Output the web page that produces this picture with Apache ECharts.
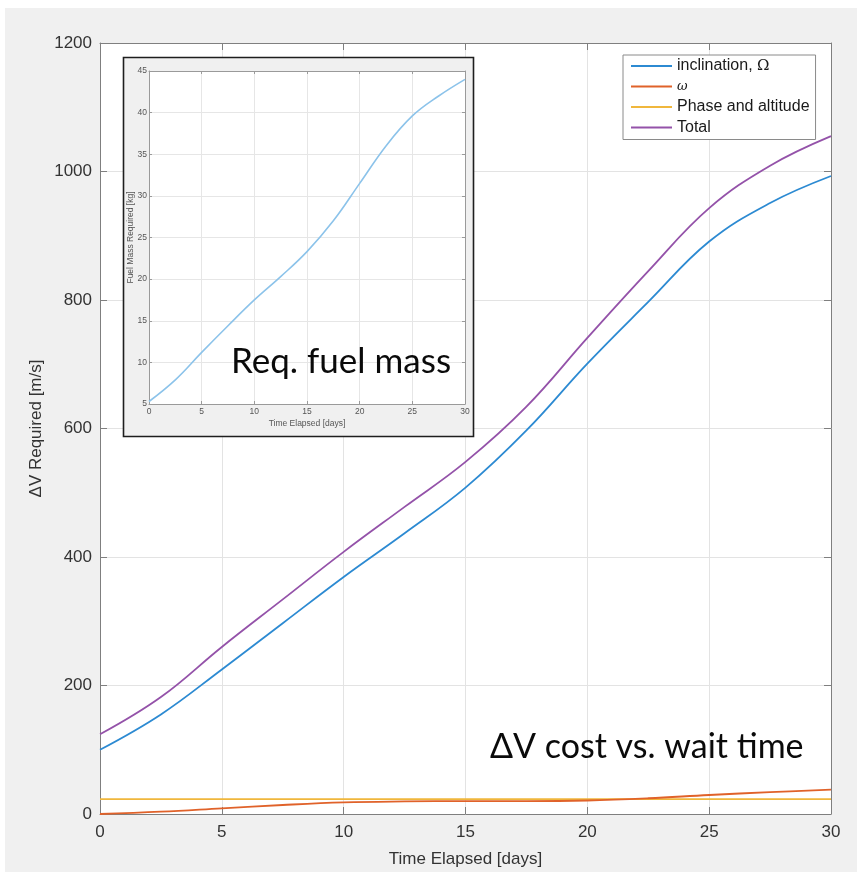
<!DOCTYPE html>
<html>
<head>
<meta charset="utf-8">
<script src="https://cdn.jsdelivr.net/npm/echarts@6/dist/echarts.min.js"></script>
<style>
  html, body { margin: 0; padding: 0; background: #ffffff; }
  #wrap { position: relative; width: 857px; height: 878px; overflow: hidden; }
  #figbg { position: absolute; left: 5px; top: 8px; width: 852px; height: 864px; background: #f0f0f0; }
  #chart { position: absolute; left: 0; top: 0; width: 857px; height: 878px; }
</style>
</head>
<body>
<div id="wrap">
  <div id="figbg"></div>
  <div id="chart"></div>
</div>
<script>
// Time after the reference epoch (days)
const days = [0, 2.5, 5, 7.5, 10, 12.5, 15, 17.5, 20, 22.5, 25, 27.5, 30];

// Delta-V components (m/s)
const inclination = [100, 155, 225, 297, 369, 437, 508, 597, 701, 797, 891, 951, 993];
const omega       = [0, 3.6, 8.8, 14, 18, 19.5, 20, 20, 21, 24.5, 29.6, 34, 38];
const phaseAlt    = [23, 23, 23, 23, 23, 23, 23, 23, 23, 23, 23, 23, 23];
const total       = [124, 182, 260, 334, 408, 478, 548, 634, 741, 845, 943, 1009, 1055];

// Propellant mass needed for the total manoeuvre (kg)
const fuelMass = [5.3, 7.9, 11.2, 14.4, 17.5, 20.3, 23.3, 27.0, 31.5, 36.0, 39.6, 42.0, 44.0];

// Axis ranges / ticks
const xTicks = { min: 0, max: 30, step: 5 };
const dvTicks = { min: 0, max: 1200, step: 200 };
const fuelTicks = { min: 5, max: 45, step: 5 };

const seriesNames = ['inclination, \u03A9', '\u03C9', 'Phase and altitude', 'Total'];

const pairs = (ys) => days.map((d, i) => [d, ys[i]]);
const plain = (v) => String(v);

const FONT = '"Liberation Sans", Arial, Helvetica, sans-serif';
const AX = '#7f7f7f';
const GRID = '#e3e3e3';
const INSET_AX = '#9a9a9a';

const chart = echarts.init(document.getElementById('chart'), null, { renderer: 'canvas' });

// tick-only axis used to close the plot box on the opposite side
function boxAxis(gridIndex, position, r, tickLen, z, color) {
  return {
    type: 'value', gridIndex, position,
    min: r.min, max: r.max, interval: r.step,
    z,
    axisLine: { show: true, onZero: false, lineStyle: { color, width: 1 } },
    axisTick: { show: true, inside: true, length: tickLen, lineStyle: { color } },
    axisLabel: { show: false },
    splitLine: { show: false }
  };
}

const lineBase = { type: 'line', showSymbol: false, smooth: 0.4, symbol: 'none' };

chart.setOption({
  animation: false,
  backgroundColor: 'transparent',
  textStyle: { fontFamily: FONT },
  grid: [
    { left: 100, top: 43, width: 731, height: 771, show: true, backgroundColor: '#ffffff', borderWidth: 0, z: 0 },
    { left: 149, top: 71, width: 316, height: 333, show: true, backgroundColor: '#ffffff', borderWidth: 0, z: 11 }
  ],
  graphic: [
    // inset frame
    { type: 'rect', z: 10, shape: { x: 123.5, y: 57.5, width: 350, height: 379 },
      style: { fill: '#f0f0f0', stroke: '#1e1e1e', lineWidth: 1.6 } },
    { type: 'text', z: 30, left: 231, top: 344,
      style: { text: 'Req. fuel mass', font: '35px Lato', fill: '#0a0a0a' } },
    { type: 'text', z: 30, left: 490, top: 730,
      style: { text: '\u0394V cost vs. wait time', font: '34px Lato', fill: '#0a0a0a' } }
  ],
  xAxis: [
    {
      type: 'value', gridIndex: 0, position: 'bottom',
      min: xTicks.min, max: xTicks.max, interval: xTicks.step,
      name: 'Time Elapsed [days]', nameLocation: 'middle', nameGap: 37, nameMoveOverlap: false,
      nameTextStyle: { fontSize: 17, color: '#333333', fontFamily: FONT },
      axisLine: { show: true, onZero: false, lineStyle: { color: AX, width: 1 } },
      axisTick: { show: true, inside: true, length: 7, lineStyle: { color: AX } },
      axisLabel: { fontSize: 17, color: '#333333', margin: 10, fontFamily: FONT, formatter: plain },
      splitLine: { show: true, lineStyle: { color: GRID, width: 1 } }
    },
    boxAxis(0, 'top', xTicks, 7, 0, AX),
    {
      type: 'value', gridIndex: 1, position: 'bottom',
      min: xTicks.min, max: xTicks.max, interval: xTicks.step, z: 12,
      name: 'Time Elapsed [days]', nameLocation: 'middle', nameGap: 15, nameMoveOverlap: false,
      nameTextStyle: { fontSize: 8.5, color: '#555555', fontFamily: FONT },
      axisLine: { show: true, onZero: false, lineStyle: { color: INSET_AX, width: 1 } },
      axisTick: { show: true, inside: true, length: 3, lineStyle: { color: INSET_AX } },
      axisLabel: { fontSize: 8.5, color: '#555555', margin: 3, fontFamily: FONT, formatter: plain },
      splitLine: { show: true, lineStyle: { color: '#e6e6e6', width: 1 } }
    },
    boxAxis(1, 'top', xTicks, 3, 12, INSET_AX)
  ],
  yAxis: [
    {
      type: 'value', gridIndex: 0, position: 'left',
      min: dvTicks.min, max: dvTicks.max, interval: dvTicks.step,
      name: '\u0394V Required [m/s]', nameLocation: 'middle', nameGap: 55, nameMoveOverlap: false,
      nameTextStyle: { fontSize: 17, color: '#333333', fontFamily: FONT },
      axisLine: { show: true, onZero: false, lineStyle: { color: AX, width: 1 } },
      axisTick: { show: true, inside: true, length: 7, lineStyle: { color: AX } },
      axisLabel: { fontSize: 17, color: '#333333', margin: 8, fontFamily: FONT, formatter: plain },
      splitLine: { show: true, lineStyle: { color: GRID, width: 1 } }
    },
    boxAxis(0, 'right', dvTicks, 7, 0, AX),
    {
      type: 'value', gridIndex: 1, position: 'left',
      min: fuelTicks.min, max: fuelTicks.max, interval: fuelTicks.step, z: 12,
      name: 'Fuel Mass Required [kg]', nameLocation: 'middle', nameGap: 14, nameMoveOverlap: false,
      nameTextStyle: { fontSize: 8.5, color: '#555555', fontFamily: FONT },
      axisLine: { show: true, onZero: false, lineStyle: { color: INSET_AX, width: 1 } },
      axisTick: { show: true, inside: true, length: 3, lineStyle: { color: INSET_AX } },
      axisLabel: { fontSize: 8.5, color: '#555555', margin: 2, fontFamily: FONT, formatter: plain },
      splitLine: { show: true, lineStyle: { color: '#e6e6e6', width: 1 } }
    },
    boxAxis(1, 'right', fuelTicks, 3, 12, INSET_AX)
  ],
  legend: {
    orient: 'vertical', left: 623, top: 55, z: 20,
    data: seriesNames,
    icon: 'rect', itemWidth: 41, itemHeight: 2, itemGap: 2.5,
    padding: [2, 6, 3, 8],
    backgroundColor: '#ffffff', borderColor: '#8a8a8a', borderWidth: 1,
    textStyle: {
      fontSize: 16, color: '#1a1a1a', fontFamily: FONT, lineHeight: 18,
      rich: {
        g: { fontSize: 15, fontFamily: '"DejaVu Serif", serif', color: '#1a1a1a', lineHeight: 18 },
        w: { fontSize: 13, fontStyle: 'italic', fontFamily: '"DejaVu Serif", serif', color: '#1a1a1a', lineHeight: 18 }
      }
    },
    formatter: (name) => {
      if (name === seriesNames[0]) return 'inclination, {g|\u03A9}';
      if (name === seriesNames[1]) return '{w|\u03C9}';
      return name;
    }
  },
  series: [
    Object.assign({}, lineBase, { name: seriesNames[0], xAxisIndex: 0, yAxisIndex: 0, z: 3,
      data: pairs(inclination), lineStyle: { color: '#2c8ad2', width: 1.8 }, itemStyle: { color: '#2c8ad2' } }),
    Object.assign({}, lineBase, { name: seriesNames[1], xAxisIndex: 0, yAxisIndex: 0, z: 4,
      data: pairs(omega), lineStyle: { color: '#e0622a', width: 1.8 }, itemStyle: { color: '#e0622a' } }),
    Object.assign({}, lineBase, { name: seriesNames[2], xAxisIndex: 0, yAxisIndex: 0, z: 3,
      data: pairs(phaseAlt), lineStyle: { color: '#f0b73c', width: 1.8 }, itemStyle: { color: '#f0b73c' } }),
    Object.assign({}, lineBase, { name: seriesNames[3], xAxisIndex: 0, yAxisIndex: 0, z: 3,
      data: pairs(total), lineStyle: { color: '#9452a9', width: 1.8 }, itemStyle: { color: '#9452a9' } }),
    Object.assign({}, lineBase, { name: 'Fuel mass', xAxisIndex: 2, yAxisIndex: 2, z: 13,
      data: pairs(fuelMass), lineStyle: { color: '#8cc3ea', width: 1.6 }, itemStyle: { color: '#8cc3ea' } })
  ]
});
</script>
</body>
</html>
